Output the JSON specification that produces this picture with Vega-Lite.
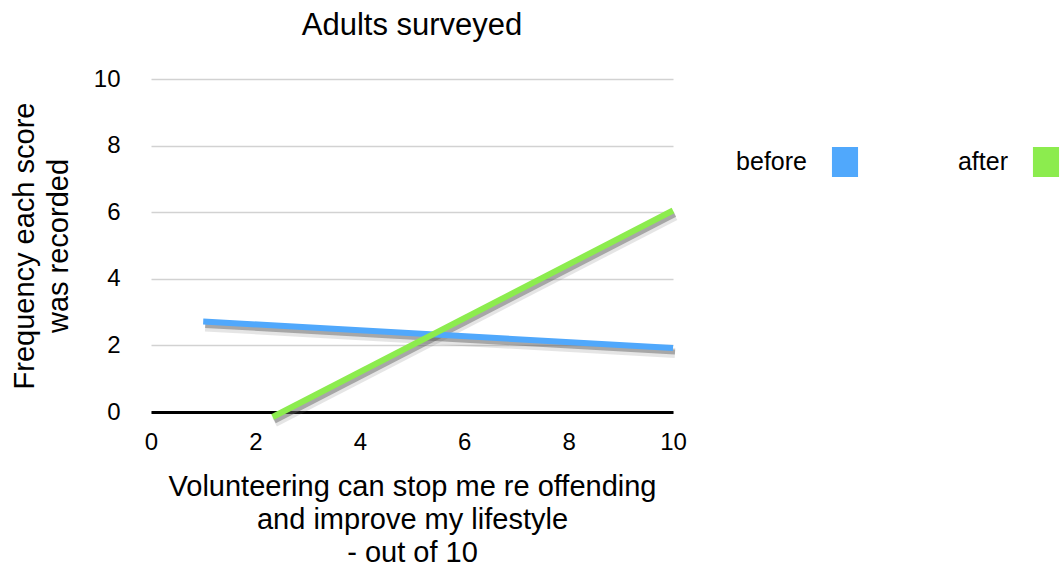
{
  "$schema": "https://vega.github.io/schema/vega-lite/v6.json",
  "autosize": {"type": "none"},
  "padding": {"left": 151, "top": 79, "right": 387, "bottom": 156},
  "width": 522,
  "height": 333,
  "background": "white",
  "config": {
    "font": "Liberation Sans",
    "view": {"stroke": null},
    "axis": {"labelColor": "black", "titleColor": "black", "titleFontWeight": "normal", "labelFont": "Liberation Sans", "titleFont": "Liberation Sans"}
  },
  "title": {
    "text": "Adults surveyed",
    "fontSize": 31,
    "fontWeight": "normal",
    "color": "black",
    "anchor": "middle",
    "offset": 25
  },
  "data": {
    "values": [
      {"score": 1, "frequency": 2.72, "series": "before"},
      {"score": 10, "frequency": 1.92, "series": "before"},
      {"score": 2.33, "frequency": -0.15, "series": "after"},
      {"score": 10, "frequency": 6.05, "series": "after"}
    ]
  },
  "encoding": {
    "x": {
      "field": "score",
      "type": "quantitative",
      "scale": {"domain": [0, 10], "nice": false, "zero": false},
      "axis": {
        "values": [0, 2, 4, 6, 8, 10],
        "grid": false,
        "ticks": false,
        "domainColor": "black",
        "domainWidth": 3,
        "labelFontSize": 24,
        "labelPadding": 18,
        "labelFlush": false,
        "title": ["Volunteering can stop me re offending", "and improve my lifestyle", "- out of 10"],
        "titleFontSize": 29,
        "titleLineHeight": 33,
        "titlePadding": 18
      }
    },
    "y": {
      "field": "frequency",
      "type": "quantitative",
      "scale": {"domain": [0, 10], "nice": false, "zero": false},
      "axis": {
        "values": [0, 2, 4, 6, 8, 10],
        "grid": true,
        "gridColor": "#d2d2d2",
        "gridWidth": 1.5,
        "domain": false,
        "ticks": false,
        "labelFontSize": 24,
        "labelPadding": 31,
        "labelFlush": false,
        "title": ["Frequency each score", "was recorded"],
        "titleFontSize": 29,
        "titleLineHeight": 34,
        "titlePadding": 20
      }
    }
  },
  "layer": [
    {
      "mark": {"type": "line", "color": "#707070", "strokeWidth": 10, "opacity": 0.18, "xOffset": 2, "yOffset": 5, "clip": false},
      "encoding": {"detail": {"field": "series"}}
    },
    {
      "mark": {"type": "line", "color": "#5a5a5a", "strokeWidth": 5, "opacity": 0.45, "xOffset": 2, "yOffset": 4, "clip": false},
      "encoding": {"detail": {"field": "series"}}
    },
    {
      "mark": {"type": "line", "strokeWidth": 6, "strokeCap": "butt", "clip": false},
      "encoding": {
        "color": {
          "field": "series",
          "type": "nominal",
          "scale": {"domain": ["before", "after"], "range": ["#50a8fc", "#8cec4e"]},
          "legend": {
            "title": null,
            "orient": "none",
            "direction": "horizontal",
            "legendX": 679,
            "legendY": 68,
            "symbolType": "M-0.87,-1H0.87V1H-0.87Z",
            "symbolSize": 900,
            "symbolStrokeWidth": 0,
            "symbolOpacity": 1,
            "labelFontSize": 25,
            "labelColor": "black",
            "labelAlign": "right",
            "labelOffset": -53,
            "labelLimit": 200,
            "columnPadding": 98,
            "encode": {
              "symbols": {
                "update": {
                  "fill": {"scale": "color", "field": "value"},
                  "fillOpacity": {"value": 1},
                  "strokeWidth": {"value": 0}
                }
              }
            }
          }
        }
      }
    }
  ]
}
